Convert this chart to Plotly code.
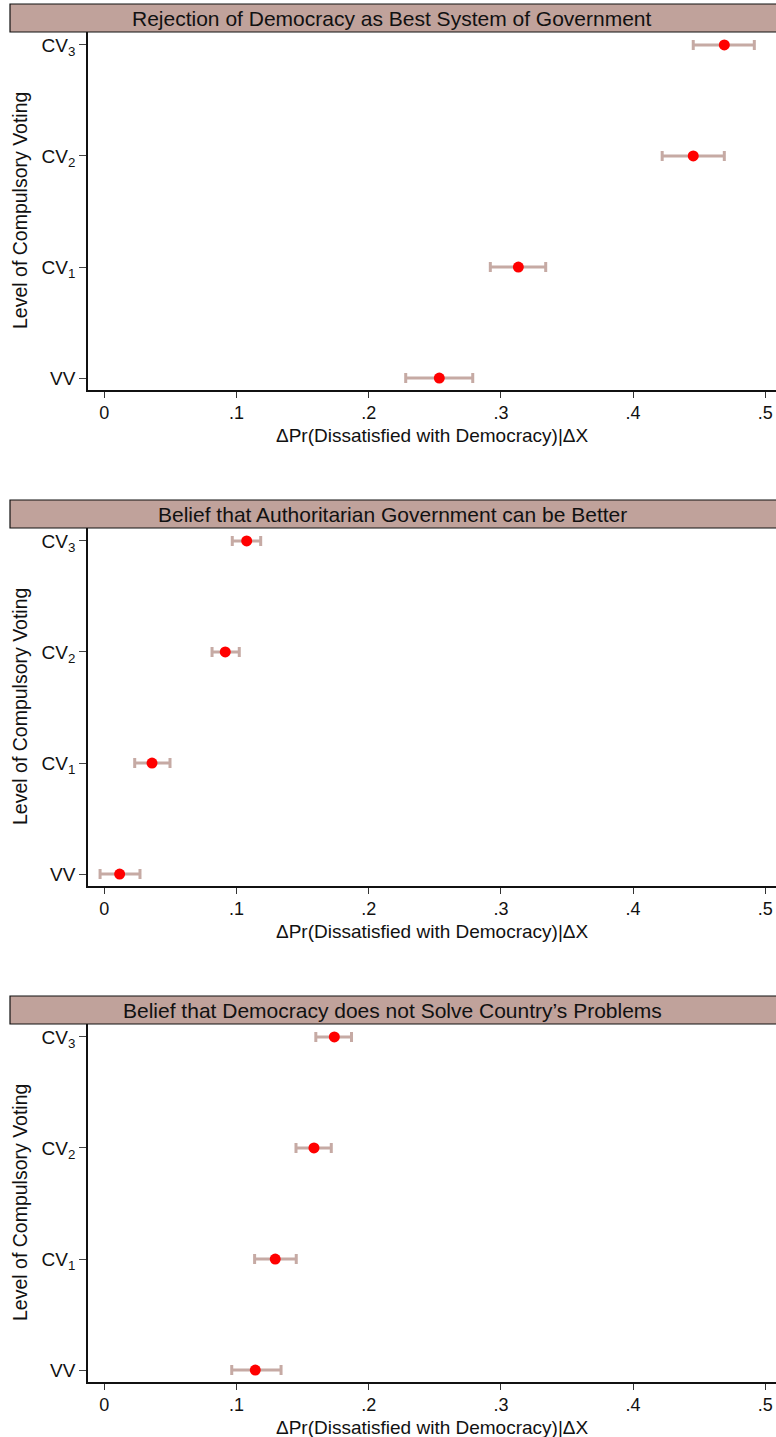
import plotly.graph_objects as go

# Levels of compulsory voting (bottom to top)
levels = ["VV", "CV1", "CV2", "CV3"]
level_labels = ["VV", "CV<sub>1</sub>", "CV<sub>2</sub>", "CV<sub>3</sub>"]

panel_titles = [
    "Rejection of Democracy as Best System of Government",
    "Belief that Authoritarian Government can be Better",
    "Belief that Democracy does not Solve Country\u2019s Problems",
]

# Change in Pr(dissatisfied) with 95% confidence bounds, per panel
rejection_est = [0.2534, 0.3132, 0.4455, 0.4690]
rejection_lo = [0.2280, 0.2920, 0.4220, 0.4455]
rejection_hi = [0.2787, 0.3339, 0.4690, 0.4917]

authoritarian_est = [0.0116, 0.0361, 0.0915, 0.1077]
authoritarian_lo = [-0.0032, 0.0230, 0.0815, 0.0968]
authoritarian_hi = [0.0270, 0.0497, 0.1021, 0.1183]

solve_est = [0.1142, 0.1293, 0.1586, 0.1740]
solve_lo = [0.0964, 0.1137, 0.1450, 0.1600]
solve_hi = [0.1337, 0.1452, 0.1717, 0.1870]

x_tickvals = [0, 0.1, 0.2, 0.3, 0.4, 0.5]
x_ticktext = ["0", ".1", ".2", ".3", ".4", ".5"]
x_title = "\u0394Pr(Dissatisfied with Democracy)|\u0394X"
y_title = "Level of Compulsory Voting"

W, H = 776, 1437
FONT = "Liberation Sans, Arial, Helvetica, sans-serif"
BAND = "#c0a29b"
ERR = "rgb(198,170,164)"

# pixel layout of each panel: (band top, plot top, plot bottom)
panels_px = [(4, 32, 390), (500, 528, 886), (996, 1024, 1382)]
plot_left = 88

series = [
    (rejection_est, rejection_lo, rejection_hi),
    (authoritarian_est, authoritarian_lo, authoritarian_hi),
    (solve_est, solve_lo, solve_hi),
]

def py(p):
    return 1 - p / H

fig = go.Figure()
shapes, annotations = [], []
ypos = list(range(len(levels)))

for i, ((est, lo, hi), title, (band_top, top, bottom)) in enumerate(
        zip(series, panel_titles, panels_px)):
    n = "" if i == 0 else str(i + 1)
    fig.add_trace(go.Scatter(
        x=est, y=ypos, mode="markers",
        xaxis="x" + n, yaxis="y" + n,
        marker=dict(color="#ff0000", size=11, line=dict(width=0)),
        error_x=dict(
            type="data", symmetric=False,
            array=[h - e for h, e in zip(hi, est)],
            arrayminus=[e - l for e, l in zip(est, lo)],
            color=ERR, thickness=3, width=5,
        ),
        showlegend=False, hoverinfo="x+y",
    ))
    fig.layout["xaxis" + n] = dict(
        domain=[plot_left / W, 1], range=[-0.01233, 0.5081],
        anchor="y" + n, tickvals=x_tickvals, ticktext=x_ticktext,
        ticks="outside", ticklen=6, tickwidth=1.2, tickcolor="#333",
        showline=True, linecolor="#111", linewidth=1.6,
        showgrid=False, zeroline=False,
        tickfont=dict(family=FONT, size=18, color="#111"),
    )
    fig.layout["yaxis" + n] = dict(
        domain=[py(bottom), py(top)], range=[-0.107, 3.116],
        anchor="x" + n, tickvals=ypos, ticktext=level_labels,
        ticks="outside", ticklen=7, tickwidth=1.2, tickcolor="#444",
        showline=True, linecolor="#111", linewidth=1.6,
        showgrid=False, zeroline=False,
        tickfont=dict(family=FONT, size=19, color="#111"),
    )
    # title band
    shapes.append(dict(
        type="rect", xref="paper", yref="paper",
        x0=10 / W, x1=1.02, y0=py(top), y1=py(band_top),
        fillcolor=BAND, line=dict(color="#111", width=1.2), layer="below",
    ))
    annotations.append(dict(
        text=title, xref="paper", yref="paper",
        x=392 / W, y=py((band_top + top) / 2 + 0.5), showarrow=False,
        xanchor="center", yanchor="middle",
        font=dict(family=FONT, size=21, color="#111"),
    ))
    annotations.append(dict(
        text=x_title, xref="paper", yref="paper",
        x=(plot_left + W) / 2 / W, y=py(bottom + 45), showarrow=False,
        xanchor="center", yanchor="middle",
        font=dict(family=FONT, size=19, color="#111"),
    ))
    annotations.append(dict(
        text=y_title, xref="paper", yref="paper",
        x=20 / W, y=py((top + bottom) / 2), showarrow=False,
        xanchor="center", yanchor="middle", textangle=-90,
        font=dict(family=FONT, size=19.5, color="#111"),
    ))

fig.update_layout(
    width=W, height=H,
    margin=dict(l=0, r=0, t=0, b=0),
    paper_bgcolor="white", plot_bgcolor="white",
    shapes=shapes, annotations=annotations,
)

fig.write_html("out.html")
